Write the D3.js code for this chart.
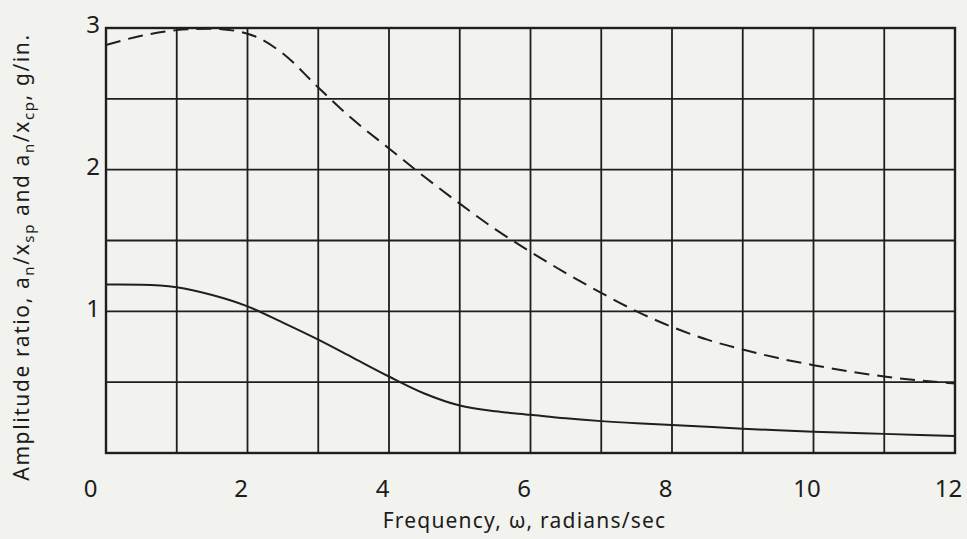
<!DOCTYPE html>
<html>
<head>
<meta charset="utf-8">
<script src="https://cdn.jsdelivr.net/npm/d3@7"></script>
<style>
  html, body { margin: 0; padding: 0; background: #f2f2ef; }
  svg { display: block; }
  text { font-family: "Noto Sans", "DejaVu Sans", sans-serif; fill: #1c1c1c; }
</style>
</head>
<body>
<svg id="chart" width="967" height="539"></svg>
<script>
// Frequency (rad/sec) at which the amplitude ratios are sampled
const frequency = [0, 0.5, 1, 1.5, 2, 2.5, 3, 3.5, 4, 4.5, 5, 5.5, 6, 6.5, 7, 7.5, 8, 8.5, 9, 9.5, 10, 11, 12];
// a_n / x_cp, g/in. (dashed)
const ratioCp = [2.88, 2.945, 2.985, 2.995, 2.96, 2.82, 2.58, 2.35, 2.15, 1.95, 1.76, 1.58, 1.42, 1.27, 1.13, 1.0, 0.89, 0.8, 0.73, 0.67, 0.62, 0.54, 0.49];
// a_n / x_sp, g/in. (solid)
const ratioSp = [1.19, 1.188, 1.17, 1.115, 1.035, 0.92, 0.80, 0.67, 0.54, 0.42, 0.335, 0.295, 0.27, 0.245, 0.225, 0.21, 0.198, 0.185, 0.172, 0.16, 0.15, 0.135, 0.12];

const xTickLabels = [0, 2, 4, 6, 8, 10, 12];
const yTickLabels = [1, 2, 3];
const xGrid = d3.range(0, 13, 1);
const yGrid = d3.range(0, 3.01, 0.5);

const svg = d3.select("#chart");
const margin = { left: 106, right: 12, top: 28, bottom: 86 };
const W = 967, H = 539;

const x = d3.scaleLinear().domain([0, 12]).range([margin.left, W - margin.right]);
const y = d3.scaleLinear().domain([0, 3]).range([H - margin.bottom, margin.top]);

const ink = "#1f1f1f";

// grid
const grid = svg.append("g").attr("stroke", ink).attr("stroke-width", 1.8);
grid.selectAll("line.v").data(xGrid).join("line")
  .attr("x1", d => x(d)).attr("x2", d => x(d))
  .attr("y1", y(0)).attr("y2", y(3));
grid.selectAll("line.h").data(yGrid).join("line")
  .attr("x1", x(0)).attr("x2", x(12))
  .attr("y1", d => y(d)).attr("y2", d => y(d));

// frame
svg.append("rect")
  .attr("x", x(0)).attr("y", y(3))
  .attr("width", x(12) - x(0)).attr("height", y(0) - y(3))
  .attr("fill", "none").attr("stroke", ink).attr("stroke-width", 2.4);

// tick labels through axes (no tick marks drawn)
const xAxis = d3.axisBottom(x).tickValues(xTickLabels).tickSize(0).tickPadding(0).tickFormat(d3.format("d"));
const gx = svg.append("g").attr("transform", `translate(0,${y(0) + 36})`).call(xAxis);
gx.select(".domain").remove();
gx.selectAll("text")
  .attr("font-size", 24).attr("dy", "0.32em")
  .attr("dx", d => d === 0 ? -16 : -7)
  .style("font-family", "'Noto Sans', sans-serif").attr("fill", "#1c1c1c");

const yAxis = d3.axisLeft(y).tickValues(yTickLabels).tickSize(0).tickPadding(0).tickFormat(d3.format("d"));
const gy = svg.append("g").attr("transform", `translate(${x(0) - 6},0)`).call(yAxis);
gy.select(".domain").remove();
gy.selectAll("text")
  .attr("font-size", 24).attr("dy", "0.2em")
  .style("font-family", "'Noto Sans', sans-serif").attr("fill", "#1c1c1c");

// curves
const line = d3.line().x(d => x(d[0])).y(d => y(d[1])).curve(d3.curveMonotoneX);

svg.append("path")
  .datum(frequency.map((f, i) => [f, ratioCp[i]]))
  .attr("d", line)
  .attr("fill", "none").attr("stroke", ink).attr("stroke-width", 2)
  .attr("stroke-dasharray", "15 8");

svg.append("path")
  .datum(frequency.map((f, i) => [f, ratioSp[i]]))
  .attr("d", line)
  .attr("fill", "none").attr("stroke", ink).attr("stroke-width", 2);

// axis titles
svg.append("text")
  .attr("x", (x(0) + x(12)) / 2 - 6).attr("y", 528)
  .attr("text-anchor", "middle").attr("font-size", 21).attr("letter-spacing", 1.2)
  .text("Frequency,  \u03c9, radians/sec");

const yt = svg.append("text")
  .attr("transform", `translate(29,${257}) rotate(-90)`)
  .attr("text-anchor", "middle").attr("font-size", 21).attr("letter-spacing", 1.6);
yt.append("tspan").text("Amplitude ratio, a");
yt.append("tspan").attr("dy", 5).attr("font-size", 15).text("n");
yt.append("tspan").attr("dy", -5).text("/x");
yt.append("tspan").attr("dy", 5).attr("font-size", 15).text("sp");
yt.append("tspan").attr("dy", -5).text("  and  a");
yt.append("tspan").attr("dy", 5).attr("font-size", 15).text("n");
yt.append("tspan").attr("dy", -5).text("/x");
yt.append("tspan").attr("dy", 5).attr("font-size", 15).text("cp");
yt.append("tspan").attr("dy", -5).text(",  g/in.");
</script>
</body>
</html>
